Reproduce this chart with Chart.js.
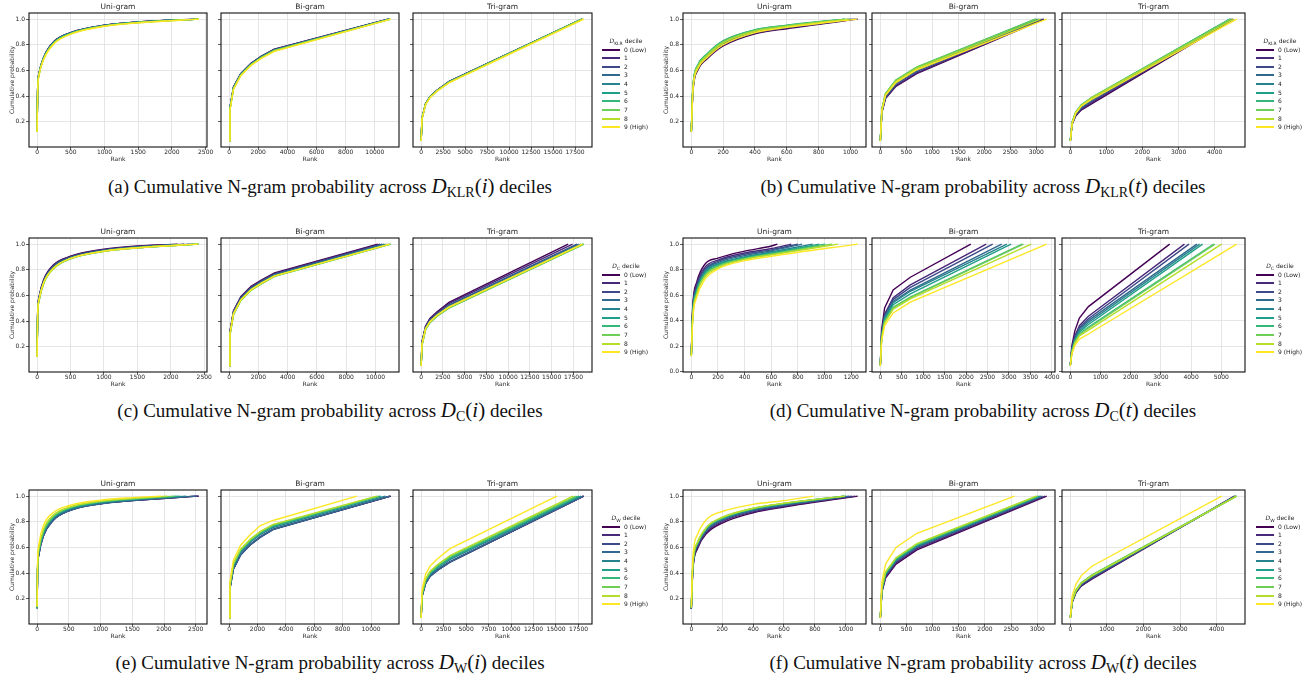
<!DOCTYPE html>
<html>
<head>
<meta charset="utf-8">
<script src="https://cdn.jsdelivr.net/npm/chart.js@4.4.1/dist/chart.umd.min.js"></script>
<style>
  html, body { margin: 0; padding: 0; background: #fff; }
  #page { position: relative; width: 1310px; height: 677px; overflow: hidden; }
  canvas { position: absolute; }
  .cap { position: absolute; font-family: "Liberation Serif", "Times New Roman", serif; font-size: 19px;
         color: #111; white-space: nowrap; text-align: center; line-height: 22px; }
  .cap .m { font-size: 21px; }
  .cap sub { font-size: 14px; vertical-align: -4px; line-height: 0; }
  .lg { position: absolute; font-family: "DejaVu Sans", sans-serif; font-size: 6px; color: #222; white-space: nowrap; line-height: 8px; }
  .lg sub { font-size: 4.5px; vertical-align: -1.5px; line-height: 0; }
  .sw { position: absolute; height: 2px; width: 18px; }
</style>
</head>
<body>
<div id="page"></div>
<script>
// --- legend entries & colours ---
const deciles = ['0 (Low)', '1', '2', '3', '4', '5', '6', '7', '8', '9 (High)'];
const viridis = ['#440154', '#482878', '#3e4989', '#31688e', '#26828e',
                 '#1f9e89', '#35b779', '#6ece58', '#b5de2b', '#fde725'];

// --- shared rank grids (x positions of the read points) ---
const iUniRank = [0, 8, 30, 100, 250, 500, 1000, 1500];
const iBiRank  = [0, 60, 300, 800, 1500, 2200, 3100];
const iTriRank = [0, 100, 500, 1000, 1800, 3200];
const tUniRank = [0, 10, 40, 100, 200, 400, 600];
const tBiRank  = [0, 30, 100, 300, 700];
const tTriRank = [0, 50, 150, 300, 600];

// --- tick labels ---
const iUniTicks = [0, 500, 1000, 1500, 2000, 2500];
const iBiTicks  = [0, 2000, 4000, 6000, 8000, 10000];
const iTriTicks = [0, 2500, 5000, 7500, 10000, 12500, 15000, 17500];
const tUniTicks = [0, 200, 400, 600, 800, 1000];
const tBiTicks  = [0, 500, 1000, 1500, 2000, 2500, 3000];
const tTriTicks = [0, 1000, 2000, 3000, 4000];
const dUniTicks = [0, 200, 400, 600, 800, 1000, 1200];
const dBiTicks  = [0, 500, 1000, 1500, 2000, 2500, 3000, 3500, 4000];
const dTriTicks = [0, 1000, 2000, 3000, 4000, 5000];
const probTicks = [0.2, 0.4, 0.6, 0.8, 1.0];
const probTicksZero = [0.0, 0.2, 0.4, 0.6, 0.8, 1.0];

// --- (a) D_KLR(i) ---
const aUniProb = [
  [0.12, 0.45, 0.58, 0.705, 0.825, 0.895, 0.952, 0.978],
  [0.12, 0.45, 0.58, 0.705, 0.825, 0.895, 0.952, 0.978],
  [0.12, 0.45, 0.58, 0.703, 0.823, 0.894, 0.951, 0.977],
  [0.12, 0.445, 0.578, 0.70, 0.82, 0.892, 0.95, 0.976],
  [0.12, 0.445, 0.575, 0.70, 0.82, 0.891, 0.949, 0.976],
  [0.12, 0.44, 0.573, 0.697, 0.817, 0.89, 0.948, 0.975],
  [0.12, 0.44, 0.572, 0.695, 0.815, 0.888, 0.947, 0.974],
  [0.12, 0.44, 0.57, 0.693, 0.813, 0.887, 0.946, 0.973],
  [0.12, 0.435, 0.568, 0.69, 0.81, 0.885, 0.945, 0.972],
  [0.12, 0.43, 0.565, 0.688, 0.808, 0.883, 0.944, 0.971]
];
const aUniEnd = [2360, 2370, 2370, 2380, 2380, 2390, 2390, 2395, 2400, 2400];
const aBiProb = [
  [0.05, 0.31, 0.47, 0.575, 0.655, 0.71, 0.765],
  [0.05, 0.31, 0.47, 0.574, 0.654, 0.709, 0.764],
  [0.05, 0.305, 0.465, 0.572, 0.652, 0.707, 0.762],
  [0.05, 0.305, 0.465, 0.57, 0.65, 0.705, 0.76],
  [0.05, 0.30, 0.462, 0.568, 0.648, 0.703, 0.758],
  [0.05, 0.30, 0.46, 0.566, 0.646, 0.701, 0.756],
  [0.05, 0.30, 0.46, 0.565, 0.645, 0.70, 0.755],
  [0.05, 0.295, 0.457, 0.563, 0.643, 0.698, 0.753],
  [0.05, 0.295, 0.455, 0.561, 0.641, 0.696, 0.751],
  [0.05, 0.29, 0.452, 0.558, 0.638, 0.693, 0.748]
];
const aBiEnd = [10900, 10920, 10950, 10970, 11000, 11020, 11040, 11060, 11080, 11100];
const aTriProb = [
  [0.05, 0.23, 0.34, 0.395, 0.445, 0.515],
  [0.05, 0.23, 0.34, 0.395, 0.445, 0.515],
  [0.05, 0.228, 0.338, 0.393, 0.443, 0.512],
  [0.05, 0.228, 0.338, 0.393, 0.443, 0.512],
  [0.05, 0.226, 0.336, 0.391, 0.441, 0.51],
  [0.05, 0.226, 0.336, 0.391, 0.441, 0.51],
  [0.05, 0.225, 0.335, 0.39, 0.44, 0.508],
  [0.05, 0.225, 0.335, 0.39, 0.44, 0.508],
  [0.05, 0.224, 0.334, 0.389, 0.439, 0.506],
  [0.05, 0.222, 0.332, 0.387, 0.437, 0.505]
];
const aTriEnd = [18250, 18300, 18350, 18300, 18350, 18300, 18250, 18300, 18400, 18500];

// --- (b) D_KLR(t) ---
const bUniProb = [
  [0.12, 0.43, 0.60, 0.69, 0.79, 0.885, 0.925],
  [0.12, 0.44, 0.61, 0.70, 0.80, 0.89, 0.93],
  [0.12, 0.45, 0.615, 0.705, 0.805, 0.895, 0.935],
  [0.12, 0.455, 0.62, 0.71, 0.81, 0.90, 0.94],
  [0.125, 0.46, 0.63, 0.72, 0.82, 0.905, 0.945],
  [0.125, 0.47, 0.64, 0.73, 0.83, 0.915, 0.95],
  [0.125, 0.47, 0.64, 0.73, 0.83, 0.917, 0.952],
  [0.125, 0.47, 0.635, 0.725, 0.825, 0.912, 0.948],
  [0.12, 0.46, 0.625, 0.715, 0.815, 0.905, 0.942],
  [0.12, 0.44, 0.61, 0.70, 0.80, 0.895, 0.935]
];
const bUniEnd = [1045, 1030, 1015, 1000, 990, 965, 960, 970, 990, 1040];
const bBiProb = [
  [0.05, 0.27, 0.38, 0.475, 0.575],
  [0.05, 0.275, 0.385, 0.48, 0.58],
  [0.05, 0.28, 0.39, 0.49, 0.59],
  [0.05, 0.285, 0.40, 0.50, 0.60],
  [0.05, 0.29, 0.41, 0.51, 0.61],
  [0.05, 0.295, 0.415, 0.52, 0.62],
  [0.05, 0.30, 0.42, 0.525, 0.625],
  [0.05, 0.30, 0.42, 0.525, 0.625],
  [0.05, 0.295, 0.415, 0.515, 0.615],
  [0.05, 0.285, 0.405, 0.505, 0.605]
];
const bBiEnd = [3150, 3130, 3100, 3060, 3030, 3000, 2980, 2990, 3080, 3200];
const bTriProb = [
  [0.05, 0.18, 0.245, 0.29, 0.34],
  [0.05, 0.18, 0.25, 0.295, 0.35],
  [0.05, 0.185, 0.255, 0.305, 0.36],
  [0.05, 0.19, 0.26, 0.31, 0.37],
  [0.05, 0.19, 0.265, 0.32, 0.378],
  [0.05, 0.195, 0.27, 0.325, 0.385],
  [0.05, 0.195, 0.275, 0.33, 0.39],
  [0.05, 0.195, 0.275, 0.33, 0.39],
  [0.05, 0.19, 0.27, 0.325, 0.385],
  [0.05, 0.185, 0.265, 0.32, 0.375]
];
const bTriEnd = [4520, 4500, 4480, 4460, 4440, 4420, 4420, 4440, 4520, 4610];

// --- (c) D_C(i) ---
const cUniProb = [
  [0.12, 0.46, 0.59, 0.725, 0.84, 0.905, 0.96, 0.985],
  [0.12, 0.455, 0.585, 0.72, 0.835, 0.902, 0.957, 0.982],
  [0.12, 0.45, 0.58, 0.715, 0.83, 0.898, 0.954, 0.979],
  [0.12, 0.445, 0.575, 0.71, 0.825, 0.895, 0.951, 0.977],
  [0.12, 0.44, 0.57, 0.705, 0.82, 0.892, 0.948, 0.975],
  [0.12, 0.435, 0.565, 0.70, 0.815, 0.888, 0.945, 0.972],
  [0.12, 0.43, 0.56, 0.695, 0.81, 0.885, 0.943, 0.97],
  [0.12, 0.43, 0.56, 0.695, 0.81, 0.886, 0.944, 0.971],
  [0.12, 0.435, 0.565, 0.70, 0.812, 0.887, 0.944, 0.971],
  [0.12, 0.44, 0.57, 0.70, 0.815, 0.888, 0.945, 0.972]
];
const cUniEnd = [2100, 2200, 2280, 2330, 2370, 2400, 2420, 2420, 2410, 2400];
const cBiProb = [
  [0.05, 0.32, 0.48, 0.59, 0.67, 0.72, 0.775],
  [0.05, 0.315, 0.475, 0.585, 0.665, 0.715, 0.77],
  [0.05, 0.31, 0.47, 0.58, 0.66, 0.71, 0.765],
  [0.05, 0.305, 0.465, 0.575, 0.655, 0.705, 0.76],
  [0.05, 0.30, 0.46, 0.57, 0.65, 0.70, 0.757],
  [0.05, 0.295, 0.455, 0.565, 0.645, 0.695, 0.752],
  [0.05, 0.29, 0.45, 0.56, 0.64, 0.69, 0.748],
  [0.05, 0.29, 0.45, 0.56, 0.64, 0.69, 0.748],
  [0.05, 0.295, 0.455, 0.562, 0.642, 0.692, 0.75],
  [0.05, 0.30, 0.458, 0.565, 0.645, 0.695, 0.752]
];
const cBiEnd = [10150, 10300, 10450, 10600, 10750, 10900, 11050, 11000, 11000, 10950];
const cTriProb = [
  [0.05, 0.24, 0.36, 0.42, 0.47, 0.545],
  [0.05, 0.235, 0.355, 0.415, 0.465, 0.535],
  [0.05, 0.23, 0.35, 0.41, 0.455, 0.525],
  [0.05, 0.225, 0.345, 0.40, 0.45, 0.52],
  [0.05, 0.22, 0.34, 0.395, 0.445, 0.51],
  [0.05, 0.215, 0.335, 0.39, 0.44, 0.505],
  [0.05, 0.21, 0.33, 0.385, 0.435, 0.50],
  [0.05, 0.215, 0.335, 0.39, 0.44, 0.505],
  [0.05, 0.215, 0.335, 0.39, 0.44, 0.505],
  [0.05, 0.22, 0.34, 0.395, 0.445, 0.51]
];
const cTriEnd = [16900, 17400, 17900, 18100, 18400, 18600, 18700, 18700, 18600, 18500];

// --- (d) D_C(t) ---
const dUniProb = [
  [0.13, 0.50, 0.70, 0.84, 0.89, 0.945, 0.985],
  [0.13, 0.48, 0.68, 0.815, 0.875, 0.93, 0.965],
  [0.13, 0.47, 0.665, 0.80, 0.865, 0.92, 0.955],
  [0.13, 0.46, 0.65, 0.79, 0.855, 0.91, 0.948],
  [0.13, 0.45, 0.64, 0.78, 0.845, 0.90, 0.938],
  [0.125, 0.44, 0.63, 0.77, 0.84, 0.895, 0.93],
  [0.125, 0.43, 0.62, 0.76, 0.83, 0.89, 0.925],
  [0.125, 0.42, 0.61, 0.75, 0.825, 0.885, 0.92],
  [0.12, 0.41, 0.60, 0.74, 0.815, 0.88, 0.915],
  [0.12, 0.40, 0.58, 0.72, 0.805, 0.87, 0.905]
];
const dUniEnd = [646, 750, 800, 830, 910, 960, 1005, 1055, 1100, 1248];
const dBiProb = [
  [0.05, 0.33, 0.50, 0.64, 0.74],
  [0.05, 0.30, 0.45, 0.58, 0.68],
  [0.05, 0.29, 0.44, 0.565, 0.66],
  [0.05, 0.28, 0.43, 0.55, 0.64],
  [0.05, 0.275, 0.42, 0.54, 0.63],
  [0.05, 0.27, 0.41, 0.525, 0.61],
  [0.05, 0.26, 0.395, 0.505, 0.585],
  [0.05, 0.26, 0.39, 0.50, 0.58],
  [0.05, 0.255, 0.38, 0.49, 0.57],
  [0.045, 0.24, 0.36, 0.46, 0.545]
];
const dBiEnd = [2110, 2470, 2620, 2830, 2950, 3050, 3310, 3340, 3520, 3880];
const dTriProb = [
  [0.05, 0.20, 0.32, 0.42, 0.51],
  [0.05, 0.18, 0.28, 0.36, 0.435],
  [0.05, 0.175, 0.27, 0.345, 0.415],
  [0.05, 0.17, 0.26, 0.335, 0.40],
  [0.05, 0.165, 0.25, 0.32, 0.385],
  [0.05, 0.16, 0.245, 0.31, 0.37],
  [0.05, 0.155, 0.235, 0.295, 0.35],
  [0.05, 0.15, 0.23, 0.29, 0.34],
  [0.05, 0.145, 0.22, 0.28, 0.325],
  [0.045, 0.135, 0.205, 0.255, 0.295]
];
const dTriEnd = [3290, 3780, 3930, 4190, 4280, 4380, 4750, 4790, 5010, 5510];

// --- (e) D_W(i) ---
const eUniProb = [
  [0.13, 0.42, 0.55, 0.69, 0.81, 0.885, 0.94, 0.965],
  [0.13, 0.42, 0.55, 0.69, 0.81, 0.885, 0.94, 0.965],
  [0.13, 0.42, 0.555, 0.695, 0.815, 0.888, 0.942, 0.967],
  [0.12, 0.41, 0.55, 0.69, 0.81, 0.885, 0.94, 0.966],
  [0.13, 0.43, 0.565, 0.705, 0.825, 0.895, 0.947, 0.972],
  [0.13, 0.44, 0.575, 0.715, 0.83, 0.90, 0.951, 0.975],
  [0.13, 0.445, 0.58, 0.72, 0.835, 0.905, 0.954, 0.977],
  [0.135, 0.45, 0.59, 0.73, 0.84, 0.908, 0.957, 0.979],
  [0.135, 0.46, 0.60, 0.74, 0.85, 0.913, 0.961, 0.982],
  [0.14, 0.48, 0.63, 0.77, 0.87, 0.925, 0.968, 0.988]
];
const eUniEnd = [2550, 2540, 2520, 2500, 2350, 2250, 2200, 2150, 2050, 1950];
const eBiProb = [
  [0.05, 0.28, 0.43, 0.54, 0.62, 0.68, 0.74],
  [0.05, 0.28, 0.43, 0.54, 0.62, 0.68, 0.74],
  [0.05, 0.28, 0.435, 0.545, 0.625, 0.685, 0.742],
  [0.05, 0.275, 0.43, 0.54, 0.62, 0.68, 0.738],
  [0.05, 0.29, 0.45, 0.56, 0.64, 0.70, 0.755],
  [0.05, 0.30, 0.46, 0.57, 0.65, 0.71, 0.765],
  [0.05, 0.30, 0.465, 0.575, 0.655, 0.715, 0.77],
  [0.05, 0.305, 0.47, 0.58, 0.66, 0.72, 0.775],
  [0.05, 0.31, 0.475, 0.585, 0.665, 0.725, 0.78],
  [0.05, 0.33, 0.50, 0.615, 0.70, 0.77, 0.81]
];
const eBiEnd = [11400, 11350, 11350, 11300, 11000, 10700, 10600, 10500, 10400, 9000];
const eTriProb = [
  [0.05, 0.22, 0.32, 0.375, 0.42, 0.485],
  [0.05, 0.22, 0.32, 0.375, 0.42, 0.485],
  [0.05, 0.22, 0.325, 0.38, 0.425, 0.49],
  [0.05, 0.215, 0.32, 0.375, 0.42, 0.485],
  [0.05, 0.225, 0.335, 0.39, 0.435, 0.505],
  [0.05, 0.23, 0.34, 0.395, 0.445, 0.515],
  [0.05, 0.235, 0.345, 0.40, 0.45, 0.52],
  [0.05, 0.24, 0.35, 0.41, 0.46, 0.53],
  [0.05, 0.245, 0.355, 0.415, 0.465, 0.535],
  [0.05, 0.27, 0.39, 0.455, 0.51, 0.59]
];
const eTriEnd = [18100, 18050, 18050, 18000, 17800, 17600, 17400, 17200, 16900, 15100];

// --- (f) D_W(t) ---
const fUniProb = [
  [0.12, 0.42, 0.59, 0.71, 0.79, 0.87, 0.915],
  [0.12, 0.43, 0.60, 0.72, 0.80, 0.877, 0.92],
  [0.12, 0.44, 0.61, 0.73, 0.81, 0.885, 0.927],
  [0.125, 0.45, 0.62, 0.74, 0.815, 0.89, 0.93],
  [0.125, 0.455, 0.625, 0.745, 0.82, 0.895, 0.935],
  [0.13, 0.46, 0.63, 0.75, 0.825, 0.90, 0.94],
  [0.13, 0.465, 0.635, 0.755, 0.83, 0.903, 0.942],
  [0.13, 0.465, 0.635, 0.755, 0.83, 0.903, 0.942],
  [0.13, 0.47, 0.64, 0.76, 0.835, 0.905, 0.945],
  [0.14, 0.52, 0.70, 0.82, 0.88, 0.935, 0.965]
];
const fUniEnd = [1077, 1060, 1040, 1020, 1000, 990, 985, 990, 995, 789];
const fBiProb = [
  [0.05, 0.25, 0.36, 0.47, 0.58],
  [0.05, 0.255, 0.37, 0.48, 0.59],
  [0.05, 0.26, 0.38, 0.49, 0.60],
  [0.05, 0.265, 0.385, 0.495, 0.605],
  [0.05, 0.27, 0.39, 0.50, 0.61],
  [0.05, 0.275, 0.395, 0.505, 0.615],
  [0.05, 0.28, 0.40, 0.51, 0.62],
  [0.05, 0.285, 0.405, 0.515, 0.625],
  [0.05, 0.29, 0.41, 0.52, 0.63],
  [0.05, 0.33, 0.47, 0.60, 0.71]
];
const fBiEnd = [3180, 3150, 3100, 3080, 3060, 3040, 3020, 3000, 2980, 2565];
const fTriProb = [
  [0.05, 0.17, 0.245, 0.30, 0.355],
  [0.05, 0.17, 0.245, 0.30, 0.36],
  [0.05, 0.175, 0.25, 0.31, 0.365],
  [0.05, 0.175, 0.255, 0.315, 0.37],
  [0.05, 0.18, 0.26, 0.32, 0.375],
  [0.05, 0.18, 0.26, 0.32, 0.38],
  [0.05, 0.185, 0.265, 0.325, 0.385],
  [0.05, 0.185, 0.265, 0.325, 0.385],
  [0.05, 0.18, 0.26, 0.32, 0.38],
  [0.05, 0.22, 0.31, 0.38, 0.455]
];
const fTriEnd = [4490, 4500, 4520, 4530, 4540, 4545, 4540, 4540, 4550, 4140];

// --- figure list ---
const figures = [
  { tag: 'a', col: 0, row: 0, sym: 'KLR', arg: 'i', yTicks: probTicks, panels: [
    ['Uni-gram', iUniRank, aUniProb, aUniEnd, iUniTicks],
    ['Bi-gram', iBiRank, aBiProb, aBiEnd, iBiTicks],
    ['Tri-gram', iTriRank, aTriProb, aTriEnd, iTriTicks]] },
  { tag: 'b', col: 1, row: 0, sym: 'KLR', arg: 't', yTicks: probTicks, panels: [
    ['Uni-gram', tUniRank, bUniProb, bUniEnd, tUniTicks],
    ['Bi-gram', tBiRank, bBiProb, bBiEnd, tBiTicks],
    ['Tri-gram', tTriRank, bTriProb, bTriEnd, tTriTicks]] },
  { tag: 'c', col: 0, row: 1, sym: 'C', arg: 'i', yTicks: probTicks, panels: [
    ['Uni-gram', iUniRank, cUniProb, cUniEnd, iUniTicks],
    ['Bi-gram', iBiRank, cBiProb, cBiEnd, iBiTicks],
    ['Tri-gram', iTriRank, cTriProb, cTriEnd, iTriTicks]] },
  { tag: 'd', col: 1, row: 1, sym: 'C', arg: 't', yTicks: probTicksZero, panels: [
    ['Uni-gram', tUniRank, dUniProb, dUniEnd, dUniTicks],
    ['Bi-gram', tBiRank, dBiProb, dBiEnd, dBiTicks],
    ['Tri-gram', tTriRank, dTriProb, dTriEnd, dTriTicks]] },
  { tag: 'e', col: 0, row: 2, sym: 'W', arg: 'i', yTicks: probTicks, panels: [
    ['Uni-gram', iUniRank, eUniProb, eUniEnd, iUniTicks],
    ['Bi-gram', iBiRank, eBiProb, eBiEnd, iBiTicks],
    ['Tri-gram', iTriRank, eTriProb, eTriEnd, iTriTicks]] },
  { tag: 'f', col: 1, row: 2, sym: 'W', arg: 't', yTicks: probTicks, panels: [
    ['Uni-gram', tUniRank, fUniProb, fUniEnd, tUniTicks],
    ['Bi-gram', tBiRank, fBiProb, fBiEnd, tBiTicks],
    ['Tri-gram', tTriRank, fTriProb, fTriEnd, tTriTicks]] }
];

// --- layout ---
const FONT = '"DejaVu Sans", sans-serif';
const TXT = '#262626';
const GRID = '#e0e0e0';
const COLS = [
  { boxes: [[29, 207], [221, 399], [413, 592]], legendX: 602, capX: 330 },
  { boxes: [[683, 866], [872, 1055], [1062, 1245]], legendX: 1256, capX: 983 }
];
const ROWS = [{ top: 13, cap: 186 }, { top: 238, cap: 410 }, { top: 490, cap: 662 }];
const PLOT_H = 134;
const PAD_T = 10, PAD_B = 17, PAD_R = 14;

const page = document.getElementById('page');

const frame = {
  id: 'frame',
  afterDraw(chart) {
    const { left, top, right, bottom } = chart.chartArea;
    const ctx = chart.ctx;
    ctx.save();
    ctx.strokeStyle = '#111';
    ctx.lineWidth = 1.1;
    ctx.strokeRect(left, top, right - left, bottom - top);
    ctx.restore();
  }
};

// uni-gram curves are smooth; bi/tri-gram curves have a sharp knee, so straight segments
function series(ranks, probs, ends, smooth) {
  return probs.map((row, i) => ({
    label: deciles[i],
    data: ranks.map((r, j) => ({ x: r, y: row[j] })).concat([{ x: ends[i], y: 1 }]),
    borderColor: viridis[i],
    borderWidth: 1.4,
    pointRadius: 0,
    fill: false,
    cubicInterpolationMode: smooth ? 'monotone' : 'default',
    tension: 0,
    order: 10 - i
  }));
}

figures.forEach(fig => {
  const col = COLS[fig.col];
  const row = ROWS[fig.row];

  // shared y range (matplotlib style 5% margins)
  const lo = Math.min(...fig.panels.map(p => Math.min(...p[2].map(r => r[0]))));
  const yMin = lo - 0.05 * (1 - lo);
  const yMax = 1 + 0.05 * (1 - lo);

  fig.panels.forEach((p, k) => {
    const [title, ranks, probs, ends, xTicks] = p;
    const [pl, pr] = col.boxes[k];
    const first = k === 0;
    const padL = first ? 29 : 4;
    const w = (pr - pl) + padL + PAD_R;
    const h = PLOT_H + PAD_T + PAD_B;

    const cv = document.createElement('canvas');
    cv.width = w; cv.height = h;
    cv.style.left = (pl - padL) + 'px';
    cv.style.top = (row.top - PAD_T) + 'px';
    cv.style.width = w + 'px'; cv.style.height = h + 'px';
    page.appendChild(cv);

    const xMax = Math.max(...ends);

    new Chart(cv.getContext('2d'), {
      type: 'line',
      data: { datasets: series(ranks, probs, ends, first) },
      plugins: [frame],
      options: {
        responsive: false,
        animation: false,
        events: [],
        layout: { padding: { left: 0, right: PAD_R, top: 0, bottom: 0 } },
        plugins: {
          legend: { display: false },
          tooltip: { enabled: false },
          title: {
            display: true, text: title, fullSize: false, color: TXT,
            font: { family: FONT, size: 7.5, weight: 'normal', lineHeight: 1.2 },
            padding: { top: 0, bottom: 1 }
          }
        },
        scales: {
          x: {
            type: 'linear',
            min: -0.05 * xMax, max: 1.05 * xMax,
            afterBuildTicks: s => { s.ticks = xTicks.map(v => ({ value: v })); },
            afterFit: s => { s.height = PAD_B; },
            border: { display: false },
            grid: { color: GRID, lineWidth: 0.8, tickLength: 3, tickColor: '#333', tickWidth: 0.8 },
            ticks: {
              autoSkip: false, maxRotation: 0, padding: -1, color: TXT,
              font: { family: FONT, size: 6 },
              callback: v => String(v)
            },
            title: {
              display: true, text: 'Rank', color: TXT,
              font: { family: FONT, size: 6 }, padding: { top: 0, bottom: 0.6 }
            }
          },
          y: {
            min: yMin, max: yMax,
            afterBuildTicks: s => { s.ticks = fig.yTicks.map(v => ({ value: v })); },
            afterFit: s => { s.width = padL; },
            border: { display: false },
            grid: { color: GRID, lineWidth: 0.8, tickLength: 3, tickColor: '#333', tickWidth: 0.8 },
            ticks: {
              display: first, padding: 1, color: TXT,
              font: { family: FONT, size: 6 },
              callback: v => v.toFixed(1)
            },
            title: {
              display: first, text: 'Cumulative probability', color: TXT,
              font: { family: FONT, size: 6 }, padding: { top: 8.4, bottom: 0 }
            }
          }
        }
      }
    });
  });

  // legend
  const lx = col.legendX;
  const lt = document.createElement('div');
  lt.className = 'lg';
  lt.style.left = (lx - 10) + 'px';
  lt.style.width = '68px';
  lt.style.textAlign = 'center';
  lt.style.top = (row.top + 24) + 'px';
  lt.innerHTML = '<i>D</i><sub>' + fig.sym + '</sub> decile';
  page.appendChild(lt);
  deciles.forEach((d, i) => {
    const cy = row.top + 36.5 + i * 8.65;
    const sw = document.createElement('div');
    sw.className = 'sw';
    sw.style.left = lx + 'px';
    sw.style.top = (cy - 1) + 'px';
    sw.style.background = viridis[i];
    page.appendChild(sw);
    const t = document.createElement('div');
    t.className = 'lg';
    t.style.left = (lx + 22) + 'px';
    t.style.top = (cy - 4) + 'px';
    t.textContent = d;
    page.appendChild(t);
  });

  // caption
  const cap = document.createElement('div');
  cap.className = 'cap';
  cap.style.left = (col.capX - 300) + 'px';
  cap.style.width = '600px';
  cap.style.top = (row.cap - 11) + 'px';
  cap.innerHTML = '(' + fig.tag + ') Cumulative N-gram probability across <span class="m"><i>D</i><sub>' +
    fig.sym + '</sub>(<i>' + fig.arg + '</i>)</span> deciles';
  page.appendChild(cap);
});
</script>
</body>
</html>
